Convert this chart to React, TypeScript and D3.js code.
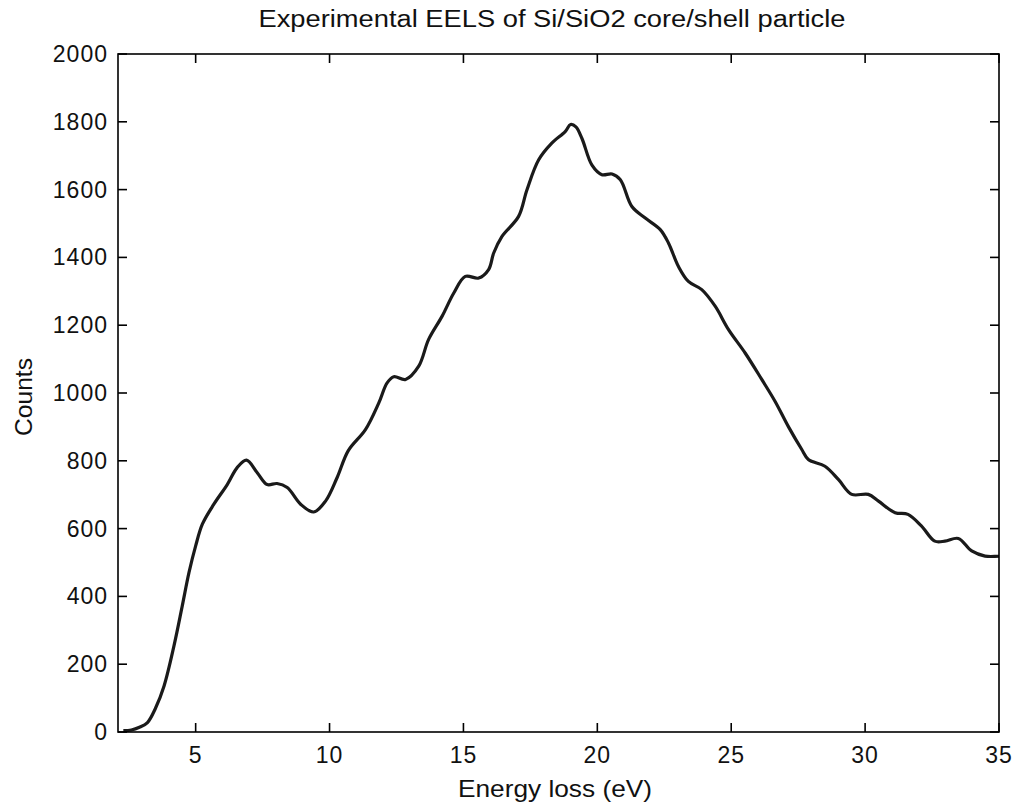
import React from "react";
import * as d3 from "d3";

const energy = [2.3, 2.6, 2.9, 3.2, 3.5, 3.82, 4.19, 4.5, 4.75, 5.0, 5.25, 5.68, 6.18, 6.55, 6.9, 7.3, 7.67, 8.04, 8.42, 8.92, 9.41, 9.85, 10.28, 10.7, 11.34, 11.84, 12.15, 12.4, 12.84, 13.33, 13.7, 14.2, 14.64, 15.07, 15.57, 15.94, 16.13, 16.44, 17.06, 17.37, 17.81, 18.3, 18.8, 19.0, 19.2, 19.43, 19.8, 20.17, 20.55, 20.86, 21.29, 21.79, 22.35, 22.66, 23.03, 23.4, 23.9, 24.4, 24.9, 25.52, 26.14, 26.64, 27.14, 27.63, 27.88, 28.5, 29.0, 29.5, 30.12, 30.5, 31.12, 31.6, 32.1, 32.6, 32.98, 33.48, 33.98, 34.48, 35.0];
const counts = [4, 6, 14, 28, 70, 136, 254, 372, 470, 549, 613, 672, 730, 780, 802, 765, 730, 733, 721, 672, 649, 681, 750, 830, 892, 971, 1030, 1048, 1040, 1079, 1158, 1226, 1295, 1344, 1339, 1364, 1413, 1462, 1521, 1599, 1688, 1737, 1771, 1792, 1785, 1750, 1672, 1644, 1646, 1629, 1550, 1516, 1482, 1442, 1373, 1329, 1305, 1256, 1187, 1118, 1040, 975, 900, 834, 804, 784, 745, 701, 701, 681, 647, 642, 608, 563, 563, 571, 534, 519, 519];
const xTicks = [5, 10, 15, 20, 25, 30, 35];
const yTicks = [0, 200, 400, 600, 800, 1000, 1200, 1400, 1600, 1800, 2000];
const title = "Experimental EELS of Si/SiO2 core/shell particle";
const xLabel = "Energy loss (eV)";
const yLabel = "Counts";

const W = 1013, H = 805;
const L = 118, R = 999, T = 54, B = 732;
const FONT = "'Liberation Sans', Arial, sans-serif";

export default function App() {
  const x = d3.scaleLinear().domain([2.1, 35]).range([L, R]);
  const y = d3.scaleLinear().domain([0, 2000]).range([B, T]);
  const pts = energy.map((e, i) => [e, counts[i]] as [number, number]);
  const line = d3.line<[number, number]>()
    .x(d => x(d[0]))
    .y(d => y(d[1]))
    .curve(d3.curveCatmullRom.alpha(0.5));
  const tl = 9;
  return (
    <svg width={W} height={H} style={{ position: "absolute", left: 0, top: 0, background: "#fff" }}>
      <rect x={0} y={0} width={W} height={H} fill="#fff" />
      <path d={line(pts) || ""} fill="none" stroke="#1a1a1a" strokeWidth={3.2} strokeLinejoin="round" />
      <rect x={L} y={T} width={R - L} height={B - T} fill="none" stroke="#000" strokeWidth={1.6} />
      {xTicks.map(t => (
        <g key={"x" + t}>
          <line x1={x(t)} x2={x(t)} y1={B} y2={B - tl} stroke="#000" strokeWidth={1.6} />
          <line x1={x(t)} x2={x(t)} y1={T} y2={T + tl} stroke="#000" strokeWidth={1.6} />
          <text x={x(t)} y={763} textAnchor="middle" fontFamily={FONT} fontSize={23} letterSpacing={1} fill="#111">{t}</text>
        </g>
      ))}
      {yTicks.map(t => (
        <g key={"y" + t}>
          <line x1={L} x2={L + tl} y1={y(t)} y2={y(t)} stroke="#000" strokeWidth={1.6} />
          <line x1={R} x2={R - tl} y1={y(t)} y2={y(t)} stroke="#000" strokeWidth={1.6} />
          <text x={108} y={y(t) + 8} textAnchor="end" fontFamily={FONT} fontSize={23} letterSpacing={1} fill="#111">{t}</text>
        </g>
      ))}
      <text x={552} y={27} textAnchor="middle" fontFamily={FONT} fontSize={23} textLength={587} lengthAdjust="spacingAndGlyphs" fill="#111">{title}</text>
      <text x={555} y={797} textAnchor="middle" fontFamily={FONT} fontSize={24} textLength={194} lengthAdjust="spacingAndGlyphs" fill="#111">{xLabel}</text>
      <text transform={`translate(32, 397) rotate(-90)`} textAnchor="middle" fontFamily={FONT} fontSize={23} textLength={78} lengthAdjust="spacingAndGlyphs" fill="#111">{yLabel}</text>
    </svg>
  );
}
